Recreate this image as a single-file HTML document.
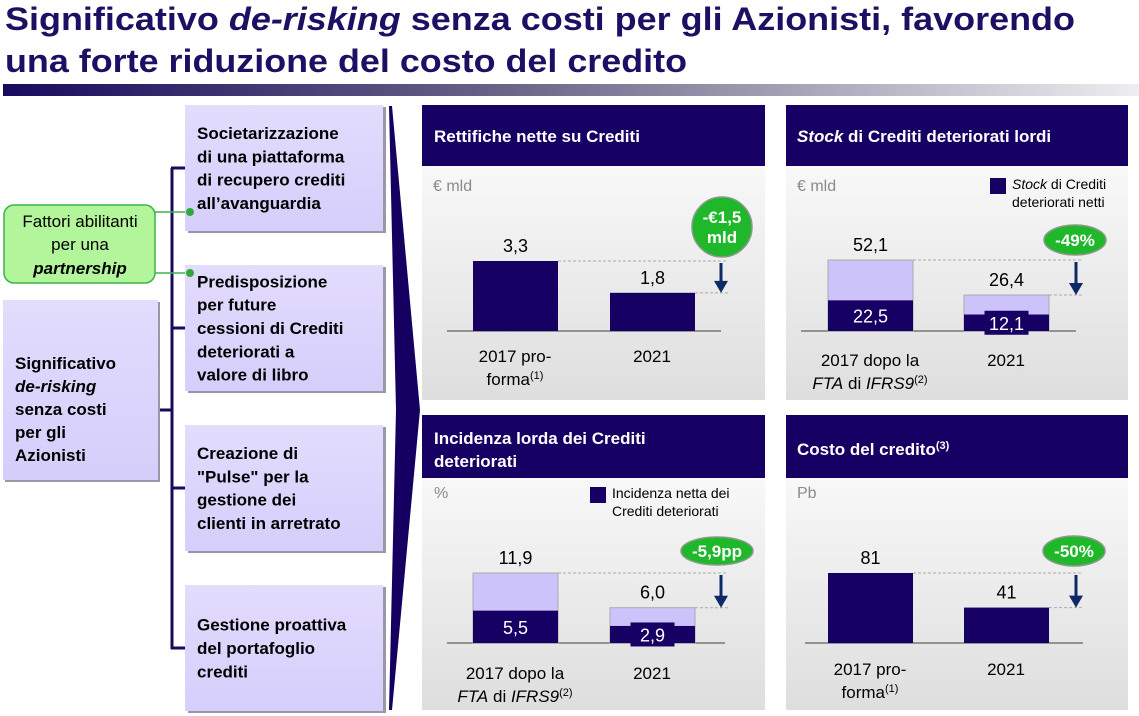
<!DOCTYPE html>
<html><head><meta charset="utf-8"><style>
html,body{margin:0;padding:0;background:#fff;}
svg{display:block;font-family:"Liberation Sans",sans-serif;}
</style></head><body>
<svg id="root" width="1139" height="716" viewBox="0 0 1139 716" xmlns="http://www.w3.org/2000/svg">
<defs>
<linearGradient id="tbar" x1="0" x2="1" y1="0" y2="0"><stop offset="0" stop-color="#1a0a5e"/><stop offset="0.45" stop-color="#6c6688"/><stop offset="1" stop-color="#eceef0"/></linearGradient>
<linearGradient id="pbg" x1="0" x2="0" y1="0" y2="1"><stop offset="0" stop-color="#ffffff"/><stop offset="1" stop-color="#dedede"/></linearGradient>
<linearGradient id="box" x1="0" x2="0" y1="0" y2="1"><stop offset="0" stop-color="#e2dcfd"/><stop offset="1" stop-color="#d6cefb"/></linearGradient>
</defs>
<g fill="#1d0f63" font-weight="bold" font-size="32">
<text x="5" y="30" textLength="1070" lengthAdjust="spacingAndGlyphs">Significativo <tspan font-style="italic">de-risking</tspan> senza costi per gli Azionisti, favorendo</text>
<text x="5" y="72" textLength="682" lengthAdjust="spacingAndGlyphs">una forte riduzione del costo del credito</text>
</g>
<rect x="3" y="84" width="1136" height="12" fill="url(#tbar)"/>

<g stroke="#1a0a5e" stroke-width="3" fill="none">
<line x1="172" y1="168" x2="172" y2="649"/>
<line x1="171" y1="168" x2="186" y2="168"/>
<line x1="171" y1="328" x2="186" y2="328"/>
<line x1="171" y1="488" x2="186" y2="488"/>
<line x1="171" y1="648" x2="186" y2="648"/>
<line x1="158" y1="410" x2="172" y2="410"/>
</g>

<g>
<rect x="5" y="302" width="155" height="180" fill="#9a98a8"/>
<rect x="3" y="300" width="155" height="180" fill="url(#box)"/>
<g font-weight="bold" font-size="17" fill="#000">
<text x="15" y="369">Significativo</text>
<text x="15" y="392" font-style="italic">de-risking</text>
<text x="15" y="415">senza costi</text>
<text x="15" y="438">per gli</text>
<text x="15" y="461">Azionisti</text>
</g></g>

<g>
<line x1="155" y1="212" x2="190" y2="212" stroke="#3cb34a" stroke-width="1.5"/>
<line x1="155" y1="273" x2="190" y2="273" stroke="#3cb34a" stroke-width="1.5"/>
<rect x="4" y="205" width="151" height="78" rx="10" fill="#b3f59a" stroke="#3cb34a" stroke-width="1.5"/>
<g font-size="17" fill="#000" text-anchor="middle">
<text x="80" y="227">Fattori abilitanti</text>
<text x="80" y="250">per una</text>
<text x="80" y="274" font-weight="bold" font-style="italic">partnership</text>
</g></g>

<g id="boxes"></g>
<g fill="#2eaa3a">
<circle cx="190" cy="212" r="4"/><circle cx="190" cy="273" r="4"/>
</g>

<polygon points="389,106 392,106 420,410 392,710 389,710 396,410" fill="#150062"/>

<g id="panels"></g>
</svg>
<script>
const NS="http://www.w3.org/2000/svg";
function mk(parent,tag,attrs,txt){const e=document.createElementNS(NS,tag);for(const k in attrs)e.setAttribute(k,attrs[k]);if(txt!==undefined)e.textContent=txt;parent.appendChild(e);return e;}

const boxTexts=[
 ["Societarizzazione","di una piattaforma","di recupero crediti","all\u2019avanguardia"],
 ["Predisposizione","per future","cessioni di Crediti","deteriorati a","valore di libro"],
 ["Creazione di","\"Pulse\" per la","gestione dei","clienti in arretrato"],
 ["Gestione proattiva","del portafoglio","crediti"]
];
const boxTops=[105,265,425,585];
const boxesG=document.getElementById('boxes');
boxTexts.forEach((lines,i)=>{
 const g=mk(boxesG,'g',{});
 
 
 const y=boxTops[i],h=126;
 mk(g,'rect',{x:188,y:y+2,width:198,height:h,fill:'#9a98a8'});
 mk(g,'rect',{x:185,y:y,width:198,height:h,fill:'url(#box)'});
 const lh=23.3, start=y+h/2-(lines.length-1)*lh/2+6;
 lines.forEach((l,j)=>mk(g,'text',{x:197,y:start+j*lh,'font-weight':'bold','font-size':17,fill:'#000'},l));
});

// ---- Chart data ----
const p1Categories=["2017 pro-forma","2021"];
const p1Values=[3.3,1.8];
const p1Labels=["3,3","1,8"];
const p2Categories=["2017 dopo la FTA di IFRS9","2021"];
const p2Gross=[52.1,26.4];
const p2Net=[22.5,12.1];
const p2GrossLabels=["52,1","26,4"];
const p2NetLabels=["22,5","12,1"];
const p3Categories=["2017 dopo la FTA di IFRS9","2021"];
const p3Gross=[11.9,6.0];
const p3Net=[5.5,2.9];
const p3GrossLabels=["11,9","6,0"];
const p3NetLabels=["5,5","2,9"];
const p4Categories=["2017 pro-forma","2021"];
const p4Values=[81,41];
const p4Labels=["81","41"];

const panelsG=document.getElementById('panels');
function panel(name,x,y,w,h,hh,titleFn){
 const g=mk(panelsG,'g',{});
 
 
 mk(g,'rect',{x:x,y:y,width:w,height:h,fill:'url(#pbg)'});
 mk(g,'rect',{x:x,y:y,width:w,height:hh,fill:'#170063'});
 titleFn(g);
 return g;
}
function catLabel(g,cx,yb,kind){
 const t=mk(g,'g',{'font-size':17,fill:'#000','text-anchor':'middle'});
 
 
 if(kind==='pf'){mk(t,'text',{x:cx,y:yb},"2017 pro-");const s=mk(t,'text',{x:cx,y:yb+23});s.innerHTML='forma<tspan font-size="11" dy="-6">(1)</tspan>';}
 else if(kind==='fta'){mk(t,'text',{x:cx,y:yb},"2017 dopo la");const s=mk(t,'text',{x:cx,y:yb+23});s.innerHTML='<tspan font-style="italic">FTA</tspan> di <tspan font-style="italic">IFRS9</tspan><tspan font-size="11" dy="-6">(2)</tspan>';}
 else mk(t,'text',{x:cx,y:yb},kind);
}
function arrowAndBadge(g,ax,topY,botY,x0,x1,bx,by,rx,ry,fs,lines){
 mk(g,'line',{x1:x0,y1:topY,x2:ax+7,y2:topY,stroke:'#aaa','stroke-dasharray':'3,2','stroke-width':1});
 mk(g,'line',{x1:x1,y1:botY,x2:ax+7,y2:botY,stroke:'#aaa','stroke-dasharray':'3,2','stroke-width':1});
 const a=mk(g,'g',{});
 
 
 mk(a,'line',{x1:ax,y1:topY+2,x2:ax,y2:botY-10,stroke:'#0d2a66','stroke-width':3});
 mk(a,'polygon',{points:`${ax-7},${botY-12} ${ax+7},${botY-12} ${ax},${botY}`,fill:'#0d2a66'});
 const b=mk(g,'g',{});
 
 
 mk(b,'ellipse',{cx:bx,cy:by,rx:rx,ry:ry,fill:'#1eb82a',stroke:'#8a9a8a','stroke-width':1.5});
 lines.forEach((l,i)=>mk(b,'text',{x:bx,y:by+6-(lines.length-1)*10+i*20,'text-anchor':'middle','font-weight':'bold','font-size':fs,fill:'#fff'},l));
}
function legend(g,x,y,l1,l2){
 const lg=mk(g,'g',{});
 
 
 mk(lg,'rect',{x:x,y:y,width:16,height:16,fill:'#170063'});
 const t1=mk(lg,'text',{x:x+22,y:y+11,'font-size':14,fill:'#000'});t1.innerHTML=l1;
 mk(lg,'text',{x:x+22,y:y+29,'font-size':14,fill:'#000'},l2);
}

function barChart(g,cfg){
 const scale=v=>cfg.base-v/cfg.max*cfg.hmax;
 mk(g,'line',{x1:cfg.ax0,y1:cfg.base,x2:cfg.ax1,y2:cfg.base,stroke:'#777','stroke-width':1.5});
 cfg.vals.forEach((v,i)=>{
  const bx=cfg.xs[i],top=scale(v);
  const r=mk(g,'rect',{x:bx,y:top,width:cfg.bw,height:cfg.base-top,fill:cfg.net?'#cdc3fb':'#170063',stroke:cfg.net?'#aaa':'none','stroke-width':1});
  
  
  mk(g,'text',{x:bx+cfg.bw/2,y:top-9,'text-anchor':'middle','font-size':18,fill:'#000'},cfg.labels[i]);
  if(cfg.net){
   const nt=scale(cfg.net[i]);
   const nr=mk(g,'rect',{x:bx,y:nt,width:cfg.bw,height:cfg.base-nt,fill:'#170063'});
   
   
   const cy=Math.min((nt+cfg.base)/2+7,cfg.base+2);
   if(cfg.base-nt<26) mk(g,'rect',{x:bx+cfg.bw/2-22,y:cy-19,width:44,height:24,fill:'#170063'});
   mk(g,'text',{x:bx+cfg.bw/2,y:cy,'text-anchor':'middle','font-size':18,fill:'#fff'},cfg.netLabels[i]);
  }
 });
 return scale;
}

let g=panel('panel-rettifiche',422,105,343,295,61,g=>mk(g,'text',{x:434,y:142,'font-weight':'bold','font-size':17,fill:'#fff'},'Rettifiche nette su Crediti'));
mk(g,'text',{x:433,y:191,'font-size':16,fill:'#8a8a8a'},'€ mld');
let s=barChart(g,{base:331,max:3.3,hmax:70,xs:[473,610],bw:85,vals:p1Values,labels:p1Labels,ax0:447,ax1:721});
arrowAndBadge(g,721,s(p1Values[0]),s(p1Values[1]),558,695,722,227,30,30,17,['-€1,5','mld']);
catLabel(g,515,362,'pf');catLabel(g,652,362,p1Categories[1]);

g=panel('panel-stock-deteriorati',786,105,342,295,61,g=>{const t=mk(g,'text',{x:797,y:142,'font-weight':'bold','font-size':17,fill:'#fff'});t.innerHTML='<tspan font-style="italic">Stock</tspan> di Crediti deteriorati lordi';});
mk(g,'text',{x:797,y:191,'font-size':16,fill:'#8a8a8a'},'€ mld');
legend(g,990,178,'<tspan font-style="italic">Stock</tspan> di Crediti','deteriorati netti');
s=barChart(g,{base:331,max:52.1,hmax:71,xs:[828,964],bw:85,vals:p2Gross,net:p2Net,labels:p2GrossLabels,netLabels:p2NetLabels,ax0:801,ax1:1076});
arrowAndBadge(g,1076,s(p2Gross[0]),s(p2Gross[1]),913,1049,1075,240,31,15,17,['-49%']);
catLabel(g,870,366,'fta');catLabel(g,1006,366,p2Categories[1]);

g=panel('panel-incidenza',422,415,343,295,63,g=>{mk(g,'text',{x:434,y:444,'font-weight':'bold','font-size':17,fill:'#fff'},'Incidenza lorda dei Crediti');mk(g,'text',{x:434,y:467,'font-weight':'bold','font-size':17,fill:'#fff'},'deteriorati');});
mk(g,'text',{x:434,y:498,'font-size':16,fill:'#8a8a8a'},'%');
legend(g,590,487,'Incidenza netta dei','Crediti deteriorati');
s=barChart(g,{base:643,max:11.9,hmax:70,xs:[473,610],bw:85,vals:p3Gross,net:p3Net,labels:p3GrossLabels,netLabels:p3NetLabels,ax0:447,ax1:725});
arrowAndBadge(g,721,s(p3Gross[0]),s(p3Gross[1]),558,695,717,551,36,14,17,['-5,9pp']);
catLabel(g,515,679,'fta');catLabel(g,652,679,p3Categories[1]);

g=panel('panel-costo-credito',786,415,342,295,63,g=>{const t=mk(g,'text',{x:797,y:455,'font-weight':'bold','font-size':17,fill:'#fff'});t.innerHTML='Costo del credito<tspan font-size="11" dy="-6">(3)</tspan>';});
mk(g,'text',{x:797,y:498,'font-size':16,fill:'#8a8a8a'},'Pb');
s=barChart(g,{base:643,max:81,hmax:70,xs:[828,964],bw:85,vals:p4Values,labels:p4Labels,ax0:805,ax1:1083});
arrowAndBadge(g,1076,s(p4Values[0]),s(p4Values[1]),913,1049,1074,551,31,15,17,['-50%']);
catLabel(g,870,675,'pf');catLabel(g,1006,675,p4Categories[1]);
</script>
</body></html>
